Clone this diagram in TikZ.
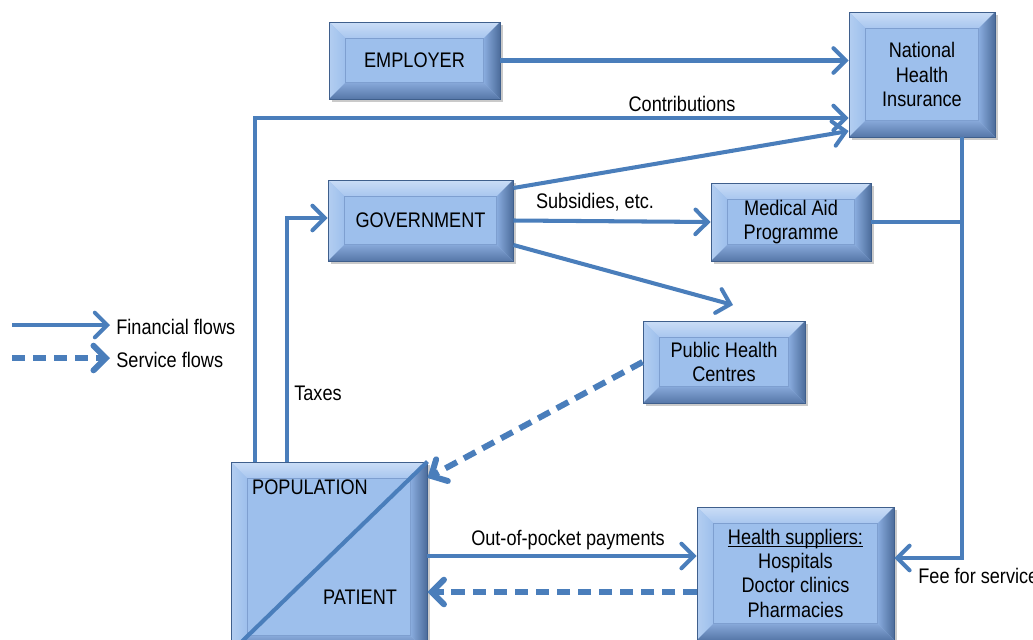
\documentclass[tikz,border=0pt]{standalone}
\usepackage{fontspec}
\setmainfont{Liberation Sans}[FakeStretch=0.86]
\usetikzlibrary{arrows.meta,shadows}

\definecolor{flow}{HTML}{4A7EBB}
\definecolor{face}{HTML}{9DBFEC}
\definecolor{rim}{HTML}{3F5F8C}
\definecolor{innerline}{HTML}{7E9FD0}
\definecolor{bevtopA}{HTML}{CADDF6}
\definecolor{bevtopB}{HTML}{A8C6EF}
\definecolor{bevleftA}{HTML}{B3CEF1}
\definecolor{bevleftB}{HTML}{9DBFEC}
\definecolor{bevrightA}{HTML}{8AADDF}
\definecolor{bevrightB}{HTML}{4C6C9B}
\definecolor{bevbotA}{HTML}{87A9DA}
\definecolor{bevbotB}{HTML}{5677A8}

\newcommand\bev{0.33cm}
% bevelled panel: name, x1, y1, x2, y2, text (pixel units)
\newcommand\panel[6]{%
  \node[panel,minimum width={(#4-#2)*0.02cm},minimum height={(#5-#3)*0.02cm}]
    (#1) at ({(#2+#4)/2},{(#3+#5)/2}) {#6};}

\tikzset{
  panel/.style={fill=face,draw=rim,line width=0.5pt,inner sep=0pt,align=center,
    font=\fontsize{12}{13.9}\selectfont,
    drop shadow={shadow xshift=1.5pt,shadow yshift=-1.5pt,opacity=0.35,fill=black!60},
    path picture={
      \coordinate (nw) at (path picture bounding box.north west);
      \coordinate (ne) at (path picture bounding box.north east);
      \coordinate (sw) at (path picture bounding box.south west);
      \coordinate (se) at (path picture bounding box.south east);
      \shade[top color=bevtopA,bottom color=bevtopB]
        (nw) -- (ne) -- ([shift={(-\bev,-\bev)}]ne) -- ([shift={(\bev,-\bev)}]nw) -- cycle;
      \shade[left color=bevleftA,right color=bevleftB]
        (nw) -- ([shift={(\bev,-\bev)}]nw) -- ([shift={(\bev,\bev)}]sw) -- (sw) -- cycle;
      \shade[left color=bevrightA,right color=bevrightB]
        (ne) -- (se) -- ([shift={(-\bev,\bev)}]se) -- ([shift={(-\bev,-\bev)}]ne) -- cycle;
      \shade[top color=bevbotA,bottom color=bevbotB]
        (sw) -- ([shift={(\bev,\bev)}]sw) -- ([shift={(-\bev,\bev)}]se) -- (se) -- cycle;
      \draw[innerline,line width=0.5pt]
        ([shift={(\bev,\bev)}]sw) rectangle ([shift={(-\bev,-\bev)}]ne);
    }},
  flowline/.style={draw=flow,line width=2.3pt},
  flow/.style={flowline,-{Straight Barb[length=7pt,width=14pt,line cap=round]}},
  service/.style={flow,line width=3.4pt,dash pattern=on 7.5pt off 4.5pt},
  lbl/.style={font=\fontsize{12}{14}\selectfont,inner sep=0pt},
  diag/.style={draw=flow,line width=2.3pt}
}

\begin{document}
\begin{tikzpicture}[x=0.02cm,y=-0.02cm]
  \useasboundingbox (0,0) rectangle (1033,639);

  % boxes
  \panel{emp}{329}{22}{500}{99}{EMPLOYER}
  \panel{nhi}{849}{12}{995}{137}{National\\Health\\Insurance}
  \panel{gov}{328}{180}{513}{261}{GOVERNMENT}
  \panel{mad}{711}{183}{871}{261}{Medical Aid\\Programme}
  \panel{phc}{643}{321}{805}{403}{Public Health\\Centres}
  \panel{hs}{697}{507}{894}{640}{$\underline{\smash{\hbox{Health suppliers:}}}$\vphantom{Hp}\\Hospitals\\Doctor clinics\\Pharmacies}
  \panel{pop}{231}{462}{427}{652}{}
  \draw[diag] (pop.south west) -- (pop.north east);
  \node[lbl] (popt) at (310,487) {POPULATION};
  \node[lbl] (patt) at (360,597) {PATIENT};

  % financial flows
  \draw[flow] (emp.east) -- (nhi.west |- emp.east);
  \draw[flow] (255,0 |- pop.north) |- (nhi.west |- 0,118);
  \draw[flow] (287,0 |- pop.north) |- (gov.west |- 0,218);
  \draw[flow] (gov.east |- 0,188) -- (nhi.west |- 0,131);
  \draw[flow] (gov.east) -- (mad.west);
  \coordinate (phctop) at (733,305);
  \draw[flow] (gov.east |- 0,245) -- (phctop);
  \draw[flowline] (mad.east) -- (962,0 |- mad.east);
  \draw[flow] (962,0 |- nhi.south) |- (hs.east |- 0,558);
  \draw[flow] (pop.east |- 0,556) -- (hs.west |- 0,556);

  % service flows
  \draw[service] (phc.west |- 0,362) -- (pop.east |- 0,478);
  \draw[service] (hs.west |- 0,592) -- (pop.east |- 0,592);

  % labels
  \node[lbl] (contrib) at (682,104) {Contributions};
  \node[lbl] (taxes) at (318,393) {Taxes};
  \node[lbl] (subs) at (595,202) {Subsidies, etc.};
  \node[lbl] (oop) at (568,540) {Out-of-pocket payments};
  \node[lbl,anchor=west] (fee) at (918,576) {Fee for service};

  % legend
  \coordinate (lega) at (12,325); \coordinate (legb) at (110,325);
  \coordinate (legc) at (12,358); \coordinate (legd) at (110,358);
  \draw[flow] (lega) -- (legb);
  \draw[service] (legc) -- (legd);
  \node[lbl,anchor=west] (legfin) at (116,327) {Financial flows};
  \node[lbl,anchor=west] (legser) at (116,360) {Service flows};
\end{tikzpicture}
\end{document}
